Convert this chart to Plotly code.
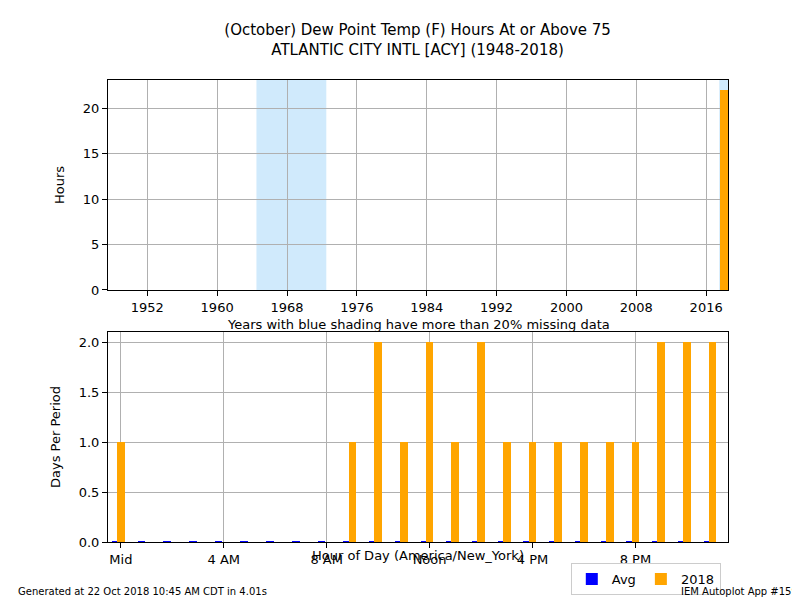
import plotly.graph_objects as go
from plotly.subplots import make_subplots

years = list(range(1948, 2019))
hours_year = [0]*70 + [22]
missing_spans = [(1964.5, 1972.5), (2017.5, 2018.5)]

hours = list(range(24))
avg = [0.004]*24
v2018 = [1,0,0,0,0,0,0,0,0,1,2,1,2,1,2,1,1,1,1,1,1,2,2,2]
hour_ticks = [0,4,8,12,16,20]
hour_labels = ["Mid","4 AM","8 AM","Noon","4 PM","8 PM"]
year_ticks = list(range(1952, 2017, 8))

fig = make_subplots(rows=2, cols=1, vertical_spacing=0.07)
fig.add_trace(go.Bar(x=years, y=hours_year, marker_color="orange", width=0.9,
                     marker_line_width=0, showlegend=False), row=1, col=1)
for a, b in missing_spans:
    fig.add_vrect(x0=a, x1=b, fillcolor="#d0eafc", line_width=0, layer="below", row=1, col=1)
fig.add_trace(go.Bar(x=hours, y=avg, name="Avg", marker_color="blue", width=0.3,
                     offset=-0.35, marker_line_width=0), row=2, col=1)
fig.add_trace(go.Bar(x=hours, y=v2018, name="2018", marker_color="orange", width=0.3,
                     offset=-0.15, marker_line_width=0), row=2, col=1)

ax = dict(showline=True, linecolor="black", mirror=True, gridcolor="#b0b0b0", ticks="outside",
          tickcolor="black", zeroline=False, automargin=False, title_font=dict(size=13))
fig.update_xaxes(**ax)
fig.update_yaxes(**ax)
fig.update_yaxes(domain=[0.5455, 1.0], row=1, col=1)
fig.update_yaxes(domain=[0.0, 0.4545], row=2, col=1)
fig.update_xaxes(range=[1947.5, 2018.5], tickvals=year_ticks, row=1, col=1)
fig.update_yaxes(range=[0, 23.1], tickvals=[0,5,10,15,20], title_text="Hours", row=1, col=1)
fig.update_xaxes(range=[-0.5, 23.6], tickvals=hour_ticks, ticktext=hour_labels,
                 title_text="Hour of Day (America/New_York)", title_standoff=2, row=2, col=1)
fig.update_yaxes(range=[0, 2.1], tickvals=[0,0.5,1.0,1.5,2.0], ticktext=["0.0","0.5","1.0","1.5","2.0"],
                 title_text="Days Per Period", row=2, col=1)
fig.update_layout(
    width=800, height=600, plot_bgcolor="white", paper_bgcolor="white",
    font=dict(family="DejaVu Sans", size=13, color="black"),
    margin=dict(l=100, r=80, t=72, b=66, autoexpand=False), bargap=0, barmode="overlay",
    title=dict(text="(October) Dew Point Temp (F) Hours At or Above 75<br>ATLANTIC CITY INTL [ACY] (1948-2018)",
               x=0.512, xanchor="center", y=0.955, font=dict(size=15)),
    legend=dict(orientation="h", xref="container", yref="container", x=0.891, xanchor="right",
                y=0.075, yanchor="top", bordercolor="#ccc", borderwidth=1),
    annotations=[
        dict(text="Years with blue shading have more than 20% missing data", xref="paper", yref="paper",
             x=0.5, y=0.47, showarrow=False, font=dict(size=13)),
        dict(text="Generated at 22 Oct 2018 10:45 AM CDT in 4.01s", xref="paper", yref="paper",
             x=-0.148, y=-0.123, xanchor="left", showarrow=False, font=dict(size=10)),
        dict(text="IEM Autoplot App #159", xref="paper", yref="paper",
             x=1.116, y=-0.123, xanchor="right", showarrow=False, font=dict(size=10)),
    ])
fig.write_html("out.html")
